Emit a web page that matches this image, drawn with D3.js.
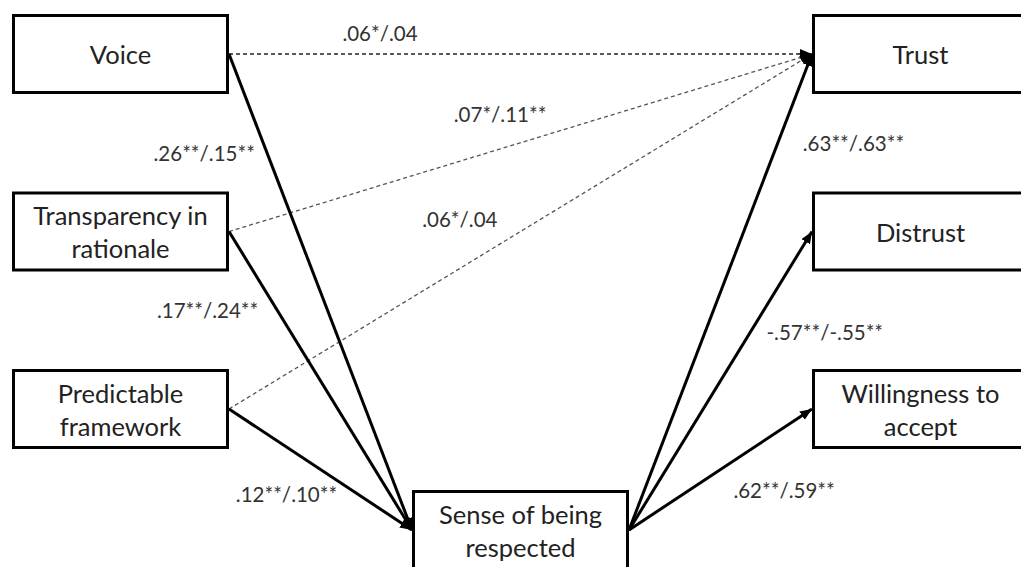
<!DOCTYPE html>
<html>
<head>
<meta charset="utf-8">
<script src="https://cdn.jsdelivr.net/npm/d3@7"></script>
<style>
  html, body { margin: 0; padding: 0; background: #fff; overflow: hidden; }
  svg { display: block; }
</style>
</head>
<body>
<svg id="chart" width="1021" height="567"></svg>
<script>
// Path model: three procedural predictors -> sense of being respected -> outcomes
const predictors = ["Voice", "Transparency in|rationale", "Predictable|framework"];
const mediator = "Sense of being|respected";
const outcomes = ["Trust", "Distrust", "Willingness to|accept"];

// Coefficients (study 1 / study 2)
const predictorToMediator = [".26**/.15**", ".17**/.24**", ".12**/.10**"];
const predictorToTrust = [".06*/.04", ".07*/.11**", ".06*/.04"];
const mediatorToOutcome = [".63**/.63**", "-.57**/-.55**", ".62**/.59**"];

const svg = d3.select("#chart");
const boxW = 217, boxH = 80;

// Row layout shared by the left and right columns
const row = d3.scaleLinear().domain([0, 2]).range([54, 409]);
const col = { left: 12, mid: 412, right: 812 };
const medY = 530;

const fontFam = "Lato, 'Open Sans', 'DejaVu Sans', sans-serif";
const labelSize = 20.5;

const defs = svg.append("defs");
defs.append("marker")
  .attr("id", "head")
  .attr("viewBox", "0 0 12 10")
  .attr("refX", 12).attr("refY", 5)
  .attr("markerWidth", 12).attr("markerHeight", 10)
  .attr("markerUnits", "userSpaceOnUse")
  .attr("orient", "auto")
  .append("path").attr("d", "M0,0 L12,5 L0,10 Z").attr("fill", "#000");

// Node boxes (the mediator box runs past the lower edge)
const nodes = [
  ...predictors.map((t, i) => ({ text: t, x: col.left, cy: row(i), h: boxH })),
  ...outcomes.map((t, i) => ({ text: t, x: col.right, cy: row(i), h: boxH })),
  { text: mediator, x: col.mid, cy: medY, h: boxH, extend: 20 }
];

// Anchor points on box edges
const leftOut = i => [col.left + boxW, row(i)];
const rightIn = i => [col.right, row(i)];
const medIn = [col.mid, medY];
const medOut = [col.mid + boxW, medY];

const lineGen = d3.line();
const edges = svg.append("g");

function addLabel(x, y, anchor, text) {
  edges.append("text")
    .attr("x", x).attr("y", y)
    .attr("text-anchor", anchor)
    .attr("dominant-baseline", "central")
    .attr("font-family", fontFam)
    .attr("font-size", labelSize)
    .attr("fill", "#333")
    .text(text);
}

// Direct effects on trust (dashed)
const directLayout = [
  { t: 0.259, dy: -21 },
  { t: 0.465, dy: -35 },
  { t: 0.396, dy: -49 }
];
predictors.forEach((p, i) => {
  const a = leftOut(i), b = rightIn(0);
  edges.append("path")
    .attr("d", lineGen([a, b]))
    .attr("fill", "none")
    .attr("stroke", i === 0 ? "#222" : "#555")
    .attr("stroke-width", 1.3)
    .attr("stroke-dasharray", "4,3")
    .attr("marker-end", "url(#head)");
  const L = directLayout[i];
  addLabel(a[0] + (b[0] - a[0]) * L.t, a[1] + (b[1] - a[1]) * L.t + L.dy, "middle", predictorToTrust[i]);
});

// Predictor -> mediator (solid)
const aLayout = [
  { t: 0.207, dx: -12 },
  { t: 0.264, dx: -19 },
  { t: 0.706, dx: -21 }
];
predictors.forEach((p, i) => {
  const a = leftOut(i), b = medIn;
  edges.append("path")
    .attr("d", lineGen([a, b]))
    .attr("fill", "none")
    .attr("stroke", "#000")
    .attr("stroke-width", 3)
    .attr("marker-end", "url(#head)");
  const L = aLayout[i];
  addLabel(a[0] + (b[0] - a[0]) * L.t + L.dx, a[1] + (b[1] - a[1]) * L.t, "end", predictorToMediator[i]);
});

// Mediator -> outcomes (solid)
const bLayout = [
  { t: 0.813, dx: 25 },
  { t: 0.664, dx: 16 },
  { t: 0.33, dx: 44 }
];
outcomes.forEach((o, i) => {
  const a = medOut, b = rightIn(i);
  edges.append("path")
    .attr("d", lineGen([a, b]))
    .attr("fill", "none")
    .attr("stroke", "#000")
    .attr("stroke-width", 3)
    .attr("marker-end", "url(#head)");
  const L = bLayout[i];
  addLabel(a[0] + (b[0] - a[0]) * L.t + L.dx, a[1] + (b[1] - a[1]) * L.t, "start", mediatorToOutcome[i]);
});

// Boxes drawn on top of line ends
const box = svg.append("g").selectAll("g").data(nodes).join("g");
box.append("rect")
  .attr("x", d => d.x + 1.5)
  .attr("y", d => d.cy - d.h / 2 + 1.5)
  .attr("width", boxW - 3)
  .attr("height", d => d.h - 3 + (d.extend || 0))
  .attr("fill", "#fff")
  .attr("stroke", "#000")
  .attr("stroke-width", 3);
box.each(function (d) {
  const lines = d.text.split("|");
  const lh = 33;
  const t = d3.select(this).append("text")
    .attr("text-anchor", "middle")
    .attr("font-family", fontFam)
    .attr("font-size", 25.5)
    .attr("fill", "#222");
  lines.forEach((s, k) => {
    t.append("tspan")
      .attr("x", d.x + boxW / 2)
      .attr("y", d.cy + (k - (lines.length - 1) / 2) * lh)
      .attr("dominant-baseline", "central")
      .text(s);
  });
});
</script>
</body>
</html>
